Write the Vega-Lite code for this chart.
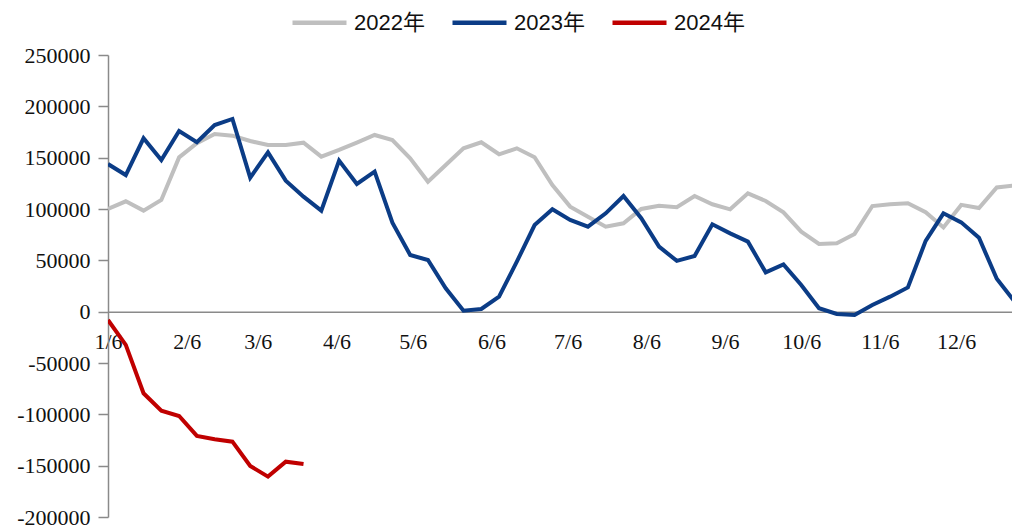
{
  "$schema": "https://vega.github.io/schema/vega-lite/v6.json",
  "width": 904,
  "height": 462,
  "autosize": {"type": "none"},
  "padding": {"left": 108, "top": 55, "right": 0, "bottom": 10},
  "background": "white",
  "config": {"view": {"stroke": null}},
  "data": {"values": [
    {"d": "2023-01-06", "2022年": 100000, "2023年": 143800, "2024年": -8100},
    {"d": "2023-01-13", "2022年": 107500, "2023年": 133100, "2024年": -32400},
    {"d": "2023-01-20", "2022年": 98400, "2023年": 168900, "2024年": -79500},
    {"d": "2023-01-27", "2022年": 108800, "2023年": 147700, "2024年": -96400},
    {"d": "2023-02-03", "2022年": 150300, "2023年": 176000, "2024年": -101600},
    {"d": "2023-02-10", "2022年": 164000, "2023年": 165000, "2024年": -121000},
    {"d": "2023-02-17", "2022年": 173000, "2023年": 181800, "2024年": -124300},
    {"d": "2023-02-24", "2022年": 171400, "2023年": 187700, "2024年": -126600},
    {"d": "2023-03-03", "2022年": 166200, "2023年": 130500, "2024年": -150300},
    {"d": "2023-03-10", "2022年": 162300, "2023年": 155200, "2024年": -160700},
    {"d": "2023-03-17", "2022年": 162300, "2023年": 127600, "2024年": -146100},
    {"d": "2023-03-24", "2022年": 164600, "2023年": 112000, "2024年": -148300},
    {"d": "2023-03-31", "2022年": 151000, "2023年": 98400},
    {"d": "2023-04-07", "2022年": 157500, "2023年": 147100},
    {"d": "2023-04-14", "2022年": 164600, "2023年": 124400},
    {"d": "2023-04-21", "2022年": 172100, "2023年": 136400},
    {"d": "2023-04-28", "2022年": 167200, "2023年": 86700},
    {"d": "2023-05-05", "2022年": 149400, "2023年": 55200},
    {"d": "2023-05-12", "2022年": 126600, "2023年": 50300},
    {"d": "2023-05-19", "2022年": 142900, "2023年": 22700},
    {"d": "2023-05-26", "2022年": 159100, "2023年": 1000},
    {"d": "2023-06-02", "2022年": 165000, "2023年": 2600},
    {"d": "2023-06-09", "2022年": 153300, "2023年": 14600},
    {"d": "2023-06-16", "2022年": 159100, "2023年": 48700},
    {"d": "2023-06-23", "2022年": 150400, "2023年": 84400},
    {"d": "2023-06-30", "2022年": 123400, "2023年": 99700},
    {"d": "2023-07-07", "2022年": 102300, "2023年": 89300},
    {"d": "2023-07-14", "2022年": 92500, "2023年": 82800},
    {"d": "2023-07-21", "2022年": 82800, "2023年": 95800},
    {"d": "2023-07-28", "2022年": 86100, "2023年": 112700},
    {"d": "2023-08-04", "2022年": 100000, "2023年": 91000},
    {"d": "2023-08-11", "2022年": 103200, "2023年": 63300},
    {"d": "2023-08-18", "2022年": 101700, "2023年": 49500},
    {"d": "2023-08-25", "2022年": 112700, "2023年": 54200},
    {"d": "2023-09-01", "2022年": 104600, "2023年": 85100},
    {"d": "2023-09-08", "2022年": 99700, "2023年": 76300},
    {"d": "2023-09-15", "2022年": 115300, "2023年": 68200},
    {"d": "2023-09-22", "2022年": 107800, "2023年": 38300},
    {"d": "2023-09-29", "2022年": 96800, "2023年": 46100},
    {"d": "2023-10-06", "2022年": 77900, "2023年": 26000},
    {"d": "2023-10-13", "2022年": 65900, "2023年": 3300},
    {"d": "2023-10-20", "2022年": 66600, "2023年": -2200},
    {"d": "2023-10-27", "2022年": 75700, "2023年": -3200},
    {"d": "2023-11-03", "2022年": 102900, "2023年": 6500},
    {"d": "2023-11-10", "2022年": 104600, "2023年": 14600},
    {"d": "2023-11-17", "2022年": 105600, "2023年": 23600},
    {"d": "2023-11-24", "2022年": 96800, "2023年": 69000},
    {"d": "2023-12-01", "2022年": 82000, "2023年": 95800},
    {"d": "2023-12-08", "2022年": 104000, "2023年": 87000},
    {"d": "2023-12-15", "2022年": 101000, "2023年": 72000},
    {"d": "2023-12-22", "2022年": 121000, "2023年": 32000},
    {"d": "2023-12-29", "2022年": 123000, "2023年": 10000}
  ]},
  "transform": [
    {"fold": ["2022年", "2023年", "2024年"], "as": ["series", "value"]},
    {"filter": "isValid(datum.value)"}
  ],
  "mark": {"type": "line", "clip": true, "strokeWidth": 4},
  "encoding": {
    "x": {
      "field": "d",
      "type": "temporal",
      "scale": {
        "type": "utc",
        "domain": [
          {"year": 2023, "month": 1, "date": 6, "utc": true},
          {"year": 2023, "month": 12, "date": 28, "utc": true}
        ]
      },
      "axis": {
        "title": null,
        "orient": "bottom",
        "offset": -205.33,
        "values": [
          {"year": 2023, "month": 1, "date": 6, "utc": true},
          {"year": 2023, "month": 2, "date": 6, "utc": true},
          {"year": 2023, "month": 3, "date": 6, "utc": true},
          {"year": 2023, "month": 4, "date": 6, "utc": true},
          {"year": 2023, "month": 5, "date": 6, "utc": true},
          {"year": 2023, "month": 6, "date": 6, "utc": true},
          {"year": 2023, "month": 7, "date": 6, "utc": true},
          {"year": 2023, "month": 8, "date": 6, "utc": true},
          {"year": 2023, "month": 9, "date": 6, "utc": true},
          {"year": 2023, "month": 10, "date": 6, "utc": true},
          {"year": 2023, "month": 11, "date": 6, "utc": true},
          {"year": 2023, "month": 12, "date": 6, "utc": true}
        ],
        "labelExpr": "utcFormat(datum.value, '%-m/%-d')",
        "ticks": false,
        "grid": false,
        "domainColor": "#8a8a8a",
        "domainWidth": 1.5,
        "labelFont": "Liberation Serif",
        "labelFontSize": 22,
        "labelColor": "#111111",
        "labelPadding": 20,
        "labelFlush": false,
        "labelOverlap": false
      }
    },
    "y": {
      "field": "value",
      "type": "quantitative",
      "scale": {"domain": [-200000, 250000], "nice": false, "zero": false},
      "axis": {
        "title": null,
        "values": [-200000, -150000, -100000, -50000, 0, 50000, 100000, 150000, 200000, 250000],
        "labelExpr": "datum.value < 0 ? '-' + format(-datum.value, 'd') : format(datum.value, 'd')",
        "grid": false,
        "domainColor": "#8a8a8a",
        "domainWidth": 1.5,
        "tickColor": "#8a8a8a",
        "tickWidth": 1.5,
        "tickSize": 10,
        "labelPadding": 8,
        "labelFont": "Liberation Serif",
        "labelFontSize": 22,
        "labelColor": "#111111",
        "labelOverlap": false
      }
    },
    "color": {
      "field": "series",
      "type": "nominal",
      "scale": {
        "domain": ["2022年", "2023年", "2024年"],
        "range": ["#bfbfbf", "#0b3c86", "#c00000"]
      },
      "legend": {
        "title": null,
        "orient": "none",
        "direction": "horizontal",
        "legendX": 182,
        "legendY": -62,
        "padding": 0,
        "symbolType": "stroke",
        "symbolSize": 2916,
        "symbolStrokeWidth": 4.5,
        "labelOffset": 5,
        "columnPadding": 18,
        "labelFont": "Liberation Sans, Noto Sans CJK SC",
        "labelFontSize": 22,
        "labelColor": "#111111"
      }
    }
  }
}
